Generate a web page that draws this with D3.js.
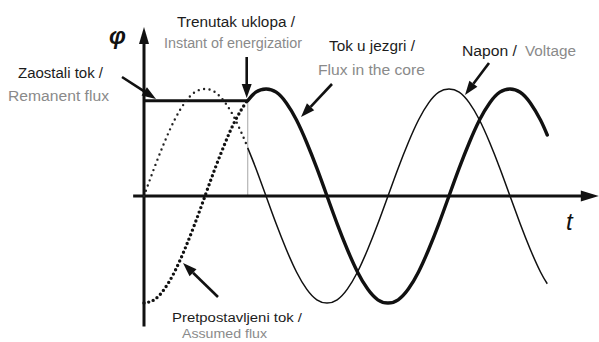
<!DOCTYPE html>
<html><head><meta charset="utf-8">
<script src="https://cdn.jsdelivr.net/npm/d3@7"></script>
<style>
html,body{margin:0;padding:0;background:#fff;}
svg{display:block;}
text{font-family:"Liberation Sans",Arial,sans-serif;}
</style></head>
<body>
<svg id="chart" width="599" height="342"></svg>
<script>
// ---- data (angles in degrees, values in p.u. of peak) ----
const energizationT = 153;
const remanentFlux = 0.89;
const tBefore = [0,15,30,45,60,75,90,105,120,135,150,153];
const voltageBefore = [0,0.26,0.5,0.71,0.87,0.97,1,0.97,0.87,0.71,0.5,0.45];
const assumedFlux = [-1,-0.97,-0.87,-0.71,-0.5,-0.26,0,0.26,0.5,0.71,0.87,0.89];
const tAfter = [153,165,180,195,210,225,240,255,270,285,300,315,330,345,360,375,390,405,420,435,450,465,480,495,510,525,540,555,570,585,595];
const voltageAfter = [0.45,0.26,0,-0.26,-0.5,-0.71,-0.87,-0.97,-1,-0.97,-0.87,-0.71,-0.5,-0.26,0,0.26,0.5,0.71,0.87,0.97,1,0.97,0.87,0.71,0.5,0.26,0,-0.26,-0.5,-0.71,-0.82];
const coreFlux = [0.89,0.97,1,0.97,0.87,0.71,0.5,0.26,0,-0.26,-0.5,-0.71,-0.87,-0.97,-1,-0.97,-0.87,-0.71,-0.5,-0.26,0,0.26,0.5,0.71,0.87,0.97,1,0.97,0.87,0.71,0.57];
const tAxis = [-16, 671];
const phiAxis = [-1.22, 1.58];

const labels = {
  phi: "φ", t: "t",
  instantBs: "Trenutak uklopa /", instantEn: "Instant of energizatior",
  coreBs: "Tok u jezgri /", coreEn: "Flux in the core",
  voltBs: "Napon /", voltEn: "Voltage",
  remBs: "Zaostali tok /", remEn: "Remanent flux",
  assBs: "Pretpostavljeni tok /", assEn: "Assumed flux"
};

const svg = d3.select("#chart");
const x = d3.scaleLinear().domain([0,360]).range([144,388]);
const y = d3.scaleLinear().domain([0,1]).range([196,89]);

const line = d3.line().x(d=>x(d[0])).y(d=>y(d[1])).curve(d3.curveNatural);
const zip = (a,b)=>a.map((v,i)=>[v,b[i]]);

// gray guide at energization instant
svg.append("line")
  .attr("x1",x(energizationT)).attr("x2",x(energizationT))
  .attr("y1",y(remanentFlux)).attr("y2",y(0))
  .attr("stroke","#b5b5b5").attr("stroke-width",1.2);

// axes
svg.append("line").attr("x1",x(tAxis[0])).attr("x2",x(tAxis[1])-14)
  .attr("y1",y(0)).attr("y2",y(0)).attr("stroke","#111").attr("stroke-width",3);
svg.append("path").attr("d",`M${x(tAxis[1])},${y(0)} L${x(tAxis[1])-18},${y(0)-5.5} L${x(tAxis[1])-18},${y(0)+5.5}Z`).attr("fill","#111");
svg.append("line").attr("x1",x(0)).attr("x2",x(0))
  .attr("y1",y(phiAxis[0])).attr("y2",y(phiAxis[1])+14).attr("stroke","#111").attr("stroke-width",3);
svg.append("path").attr("d",`M${x(0)},${y(phiAxis[1])} L${x(0)-5},${y(phiAxis[1])+17} L${x(0)+5},${y(phiAxis[1])+17}Z`).attr("fill","#111");

// remanent flux line
svg.append("line").attr("x1",x(0)).attr("x2",x(energizationT))
  .attr("y1",y(remanentFlux)).attr("y2",y(remanentFlux))
  .attr("stroke","#111").attr("stroke-width",3);

// voltage dotted (before) and solid (after)
svg.append("path").attr("d",line(zip(tBefore,voltageBefore)))
  .attr("fill","none").attr("stroke","#222").attr("stroke-width",2.4)
  .attr("stroke-linecap","round").attr("stroke-dasharray","0 5.5");
svg.append("path").attr("d",line(zip(tAfter,voltageAfter)))
  .attr("fill","none").attr("stroke","#111").attr("stroke-width",1.5);

// assumed flux (thick dotted) and core flux (thick solid)
svg.append("path").attr("d",line(zip(tBefore,assumedFlux)))
  .attr("fill","none").attr("stroke","#111").attr("stroke-width",3.4)
  .attr("stroke-linecap","round").attr("stroke-dasharray","0 4.8");
svg.append("path").attr("d",line(zip(tAfter,coreFlux)))
  .attr("fill","none").attr("stroke","#111").attr("stroke-width",3.4)
  .attr("stroke-linecap","round");

// annotation arrows
function arrow(x1,y1,x2,y2){
  const a=Math.atan2(y2-y1,x2-x1), L=14, W=5;
  const bx=x2-L*Math.cos(a), by=y2-L*Math.sin(a);
  svg.append("line").attr("x1",x1).attr("y1",y1).attr("x2",bx).attr("y2",by)
    .attr("stroke","#111").attr("stroke-width",2.6);
  svg.append("path").attr("d",`M${x2},${y2} L${bx-W*Math.sin(a)},${by+W*Math.cos(a)} L${bx+W*Math.sin(a)},${by-W*Math.cos(a)}Z`).attr("fill","#111");
}
arrow(122,77,156,99);
arrow(x(energizationT)-1,57,x(energizationT)-1,98);
arrow(332,84,301,117);
arrow(489,63,465,95);
arrow(218,297,183,263);

// texts
function txt(s,xx,yy,w,col,fs){
  svg.append("text").attr("x",xx).attr("y",yy).attr("font-size",fs||14)
    .attr("fill",col).attr("textLength",w).attr("lengthAdjust","spacingAndGlyphs").text(s);
}
const black="#1c1c1c", gray="#8a8a8a";
txt(labels.instantBs,177,27,118,black);
txt(labels.instantEn,164,48,138,gray);
txt(labels.coreBs,329,51,86,black);
txt(labels.coreEn,318,75,107,gray);
txt(labels.voltBs,462,56,55,black);
txt(labels.voltEn,525,56,51,gray);
txt(labels.remBs,18,78,85,black);
txt(labels.remEn,8,101,101,gray);
txt(labels.assBs,172,322,130,black,12.5);
txt(labels.assEn,182,338,85,gray,12.5);

svg.append("text").attr("x",109).attr("y",44).attr("font-family","'Liberation Serif',serif")
  .attr("font-weight","bold").attr("font-style","italic").attr("font-size",24).attr("fill","#111").text(labels.phi);
svg.append("text").attr("x",566).attr("y",230).attr("font-family","'Liberation Serif',serif")
  .attr("font-style","italic").attr("font-size",24).attr("fill","#111").text(labels.t);
</script>
</body></html>
